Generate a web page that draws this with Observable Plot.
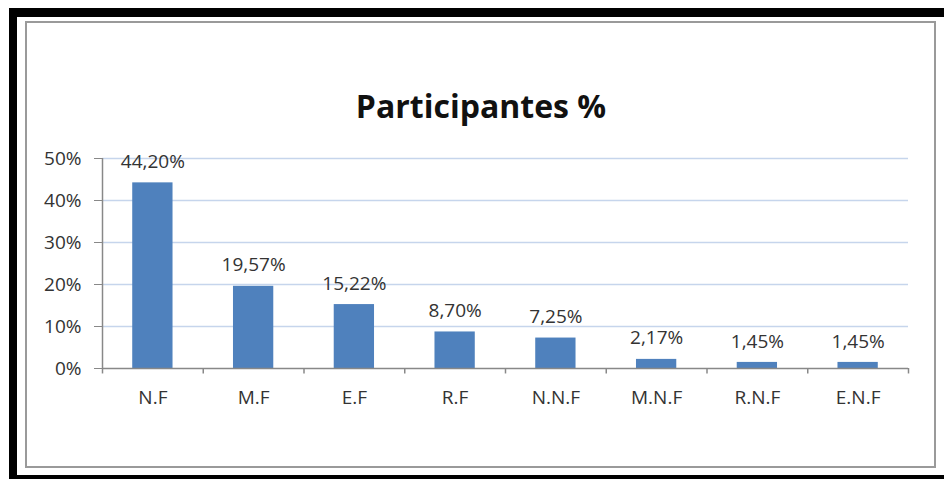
<!DOCTYPE html>
<html>
<head>
<meta charset="utf-8">
<script src="https://cdn.jsdelivr.net/npm/d3@7"></script>
<script src="https://cdn.jsdelivr.net/npm/@observablehq/plot@0.6"></script>
<style>
  html, body { margin: 0; padding: 0; background: #fff; width: 944px; height: 479px; overflow: hidden; }
  #black { position: absolute; left: 9px; top: 8px; width: 960px; height: 480px; background: #000; }
  #white { position: absolute; left: 17px; top: 17px; width: 960px; height: 458px; background: #fff; }
  #frame { position: absolute; left: 25px; top: 21px; width: 907px; height: 443px; border: 2px solid #9a9a9a; }
  #title { position: absolute; left: 0; width: 962px; top: 84px; text-align: center;
           font-family: "Open Sans", sans-serif; font-weight: 700; font-size: 32px; color: #111; line-height: 44px; }
  #chart { position: absolute; left: 0; top: 0; }
</style>
</head>
<body>
<div id="black"></div>
<div id="white"></div>
<div id="frame"></div>
<div id="title">Participantes %</div>
<div id="chart"></div>
<script>
const categories = ["N.F", "M.F", "E.F", "R.F", "N.N.F", "M.N.F", "R.N.F", "E.N.F"];
const values = [44.20, 19.57, 15.22, 8.70, 7.25, 2.17, 1.45, 1.45];
const yTicks = [0, 10, 20, 30, 40, 50];

const data = categories.map((c, i) => ({cat: c, value: values[i]}));
const fmt = v => v.toFixed(2).replace(".", ",") + "%";

const W = 944, H = 479;
const mL = 102, mR = 36, mT = 158, mB = 111;
const step = (W - mL - mR) / categories.length;

const chart = Plot.plot({
  width: W,
  height: H,
  marginLeft: mL,
  marginRight: mR,
  marginTop: mT,
  marginBottom: mB,
  style: {background: "transparent", fontFamily: "'Open Sans', sans-serif", fontSize: "19px", color: "#333"},
  x: {domain: categories, paddingInner: 0.6, paddingOuter: 0.3, round: false},
  y: {domain: [0, 50]},
  marks: [
    Plot.ruleY(yTicks.filter(d => d > 0), {stroke: "#c6d5ec", strokeWidth: 1.5}),
    Plot.barY(data, {x: "cat", y: "value", fill: "#4f81bd"}),
    Plot.ruleY([0], {stroke: "#888", strokeWidth: 1.5}),
    Plot.ruleX([categories[0]], {x: d => d, y1: 0, y2: 50, dx: -step / 2, stroke: "#888", strokeWidth: 1.5}),
    Plot.ruleX(categories, {x: d => d, y1: 0, y2: -1.3, dx: -step / 2, stroke: "#888", strokeWidth: 1.5}),
    Plot.ruleX([categories[categories.length - 1]], {x: d => d, y1: 0, y2: -1.3, dx: step / 2, stroke: "#888", strokeWidth: 1.5}),
    Plot.axisY({ticks: yTicks, tickFormat: d => d + "%", tickSize: 8, tickPadding: 13, stroke: "#888", fill: "#333", fontSize: 19, label: null}),
    Plot.axisX({tickSize: 0, tickPadding: 22, fill: "#333", fontSize: 19, label: null}),
    Plot.text(data, {x: "cat", y: "value", text: d => fmt(d.value), dy: -21, fill: "#333", fontSize: 19})
  ]
});
document.getElementById("chart").appendChild(chart);
</script>
</body>
</html>
